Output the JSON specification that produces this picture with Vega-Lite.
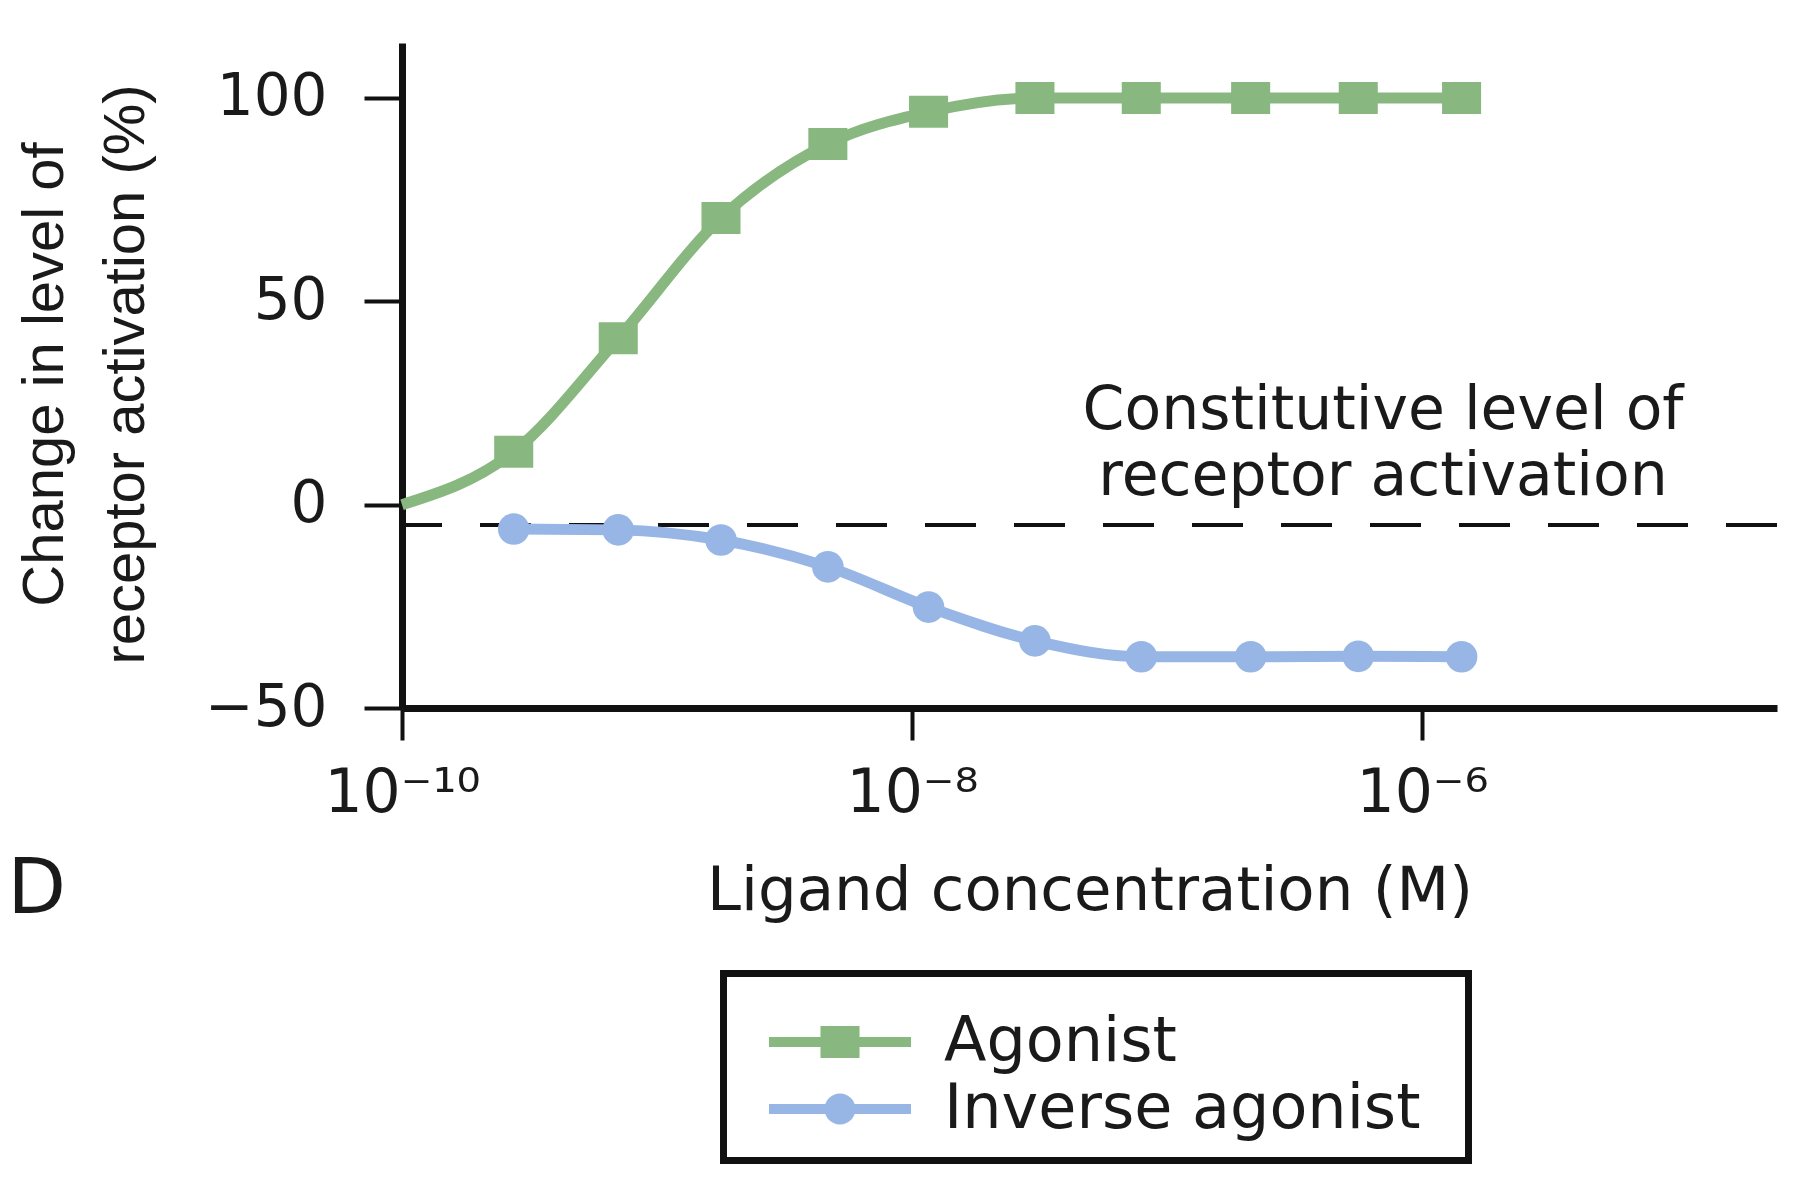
{
  "$schema": "https://vega.github.io/schema/vega-lite/v6.json",
  "description": "Dose-response of receptor activation for an agonist and an inverse agonist, log concentration axis.",
  "width": 1375,
  "height": 665,
  "autosize": "none",
  "padding": {"left": 402, "top": 43, "right": 35, "bottom": 488},
  "background": "white",
  "config": {
    "view": {"stroke": null},
    "font": "DejaVu Sans",
    "legend": {
      "orient": "none",
      "legendX": 321.5,
      "legendY": 930.5,
      "direction": "vertical",
      "titleFontSize": 1,
      "titlePadding": 16.5,
      "padding": 20,
      "strokeColor": "#111111",
      "fillColor": "white",
      "symbolSize": 3844,
      "symbolStrokeWidth": 0,
      "symbolOffset": 65.5,
      "labelOffset": 73,
      "labelFont": "DejaVu Sans",
      "labelFontSize": 62,
      "labelColor": "#1a1a1a",
      "labelLimit": 0,
      "rowPadding": 5
    }
  },
  "datasets": {
    "curves": [
      {"ligand": "Agonist", "conc": 1e-10, "activation": 0, "measured": false},
      {"ligand": "Agonist", "conc": 2.742e-10, "activation": 13.0, "measured": true},
      {"ligand": "Agonist", "conc": 7.047e-10, "activation": 40.9, "measured": true},
      {"ligand": "Agonist", "conc": 1.782e-9, "activation": 70.5, "measured": true},
      {"ligand": "Agonist", "conc": 4.677e-9, "activation": 88.7, "measured": true},
      {"ligand": "Agonist", "conc": 1.161e-8, "activation": 96.6, "measured": true},
      {"ligand": "Agonist", "conc": 3.034e-8, "activation": 100, "measured": true},
      {"ligand": "Agonist", "conc": 7.925e-8, "activation": 100, "measured": true},
      {"ligand": "Agonist", "conc": 2.128e-7, "activation": 100, "measured": true},
      {"ligand": "Agonist", "conc": 5.623e-7, "activation": 100, "measured": true},
      {"ligand": "Agonist", "conc": 1.429e-6, "activation": 100, "measured": true},
      {"ligand": "Inverse agonist", "conc": 2.742e-10, "activation": -6.0, "measured": true},
      {"ligand": "Inverse agonist", "conc": 7.047e-10, "activation": -6.2, "measured": true},
      {"ligand": "Inverse agonist", "conc": 1.782e-9, "activation": -8.7, "measured": true},
      {"ligand": "Inverse agonist", "conc": 4.677e-9, "activation": -15.3, "measured": true},
      {"ligand": "Inverse agonist", "conc": 1.161e-8, "activation": -25.2, "measured": true},
      {"ligand": "Inverse agonist", "conc": 3.034e-8, "activation": -33.5, "measured": true},
      {"ligand": "Inverse agonist", "conc": 7.925e-8, "activation": -37.4, "measured": true},
      {"ligand": "Inverse agonist", "conc": 2.128e-7, "activation": -37.4, "measured": true},
      {"ligand": "Inverse agonist", "conc": 5.623e-7, "activation": -37.3, "measured": true},
      {"ligand": "Inverse agonist", "conc": 1.429e-6, "activation": -37.4, "measured": true}
    ]
  },
  "layer": [
    {
      "data": {"values": [{"level": -5}]},
      "mark": {"type": "rule", "color": "#111111", "strokeWidth": 4, "strokeDash": [51, 38]},
      "encoding": {
        "y": {"field": "level", "type": "quantitative"}
      }
    },
    {
      "data": {"name": "curves"},
      "mark": {"type": "line", "interpolate": "monotone", "strokeWidth": 11},
      "encoding": {
        "x": {
          "field": "conc",
          "type": "quantitative",
          "scale": {"type": "log", "domain": [1e-10, 2.466e-5], "nice": false},
          "axis": {
            "title": "Ligand concentration (M)",
            "values": [1e-10, 1e-8, 1e-6],
            "labelExpr": "'10' + (datum.value < 1e-9 ? '⁻¹⁰' : datum.value < 1e-7 ? '⁻⁸' : '⁻⁶')",
            "grid": false,
            "domainColor": "#111111",
            "domainWidth": 7,
            "tickColor": "#111111",
            "tickWidth": 4,
            "tickSize": 32,
            "labelFont": "DejaVu Sans",
            "labelFontSize": 60,
            "labelColor": "#1a1a1a",
            "labelPadding": 24,
            "labelFlush": false,
            "labelOverlap": false,
            "titleFont": "DejaVu Sans",
            "titleFontSize": 61,
            "titleFontWeight": "normal",
            "titleColor": "#1a1a1a",
            "titleBaseline": "alphabetic",
            "titleY": 201
          }
        },
        "y": {
          "field": "activation",
          "type": "quantitative",
          "scale": {"domain": [-50, 113.52], "nice": false, "zero": false},
          "axis": {
            "title": ["Change in level of", "receptor activation (%)"],
            "values": [-50, 0, 50, 100],
            "grid": false,
            "domainColor": "#111111",
            "domainWidth": 7,
            "tickColor": "#111111",
            "tickWidth": 4,
            "tickSize": 38,
            "labelFont": "DejaVu Sans",
            "labelFontSize": 58,
            "labelColor": "#1a1a1a",
            "labelPadding": 37,
            "titleFont": "Liberation Sans",
            "titleFontSize": 58,
            "titleFontWeight": "normal",
            "titleColor": "#1a1a1a",
            "titleLineHeight": 81,
            "titleAngle": -90,
            "titleAlign": "center",
            "titleBaseline": "bottom",
            "titleX": -328,
            "titleY": 331
          }
        },
        "color": {
          "field": "ligand",
          "type": "nominal",
          "scale": {"domain": ["Agonist", "Inverse agonist"], "range": ["#88b880", "#98b6e5"]},
          "legend": {
            "title": " ",
            "symbolType": "M-2.29,-0.16L2.29,-0.16L2.29,0.16L-2.29,0.16ZM-0.63,-0.52L0.63,-0.52L0.63,0.52L-0.63,0.52ZM19.6,0",
            "encoding": {
              "legend": {"strokeWidth": {"value": 7}},
              "symbols": {
                "shape": {
                  "condition": {"test": "datum.value === 'Agonist'", "value": "M-2.29,-0.16L2.29,-0.16L2.29,0.16L-2.29,0.16ZM-0.63,-0.52L0.63,-0.52L0.63,0.52L-0.63,0.52ZM19.6,0"},
                  "value": "M-2.29,-0.16L2.29,-0.16L2.29,0.16L-2.29,0.16ZM0.5,0A0.5,0.5,0,1,1,-0.5,0A0.5,0.5,0,1,1,0.5,0ZM19.6,0"
                },
                "fill": {
                  "condition": {"test": "datum.value === 'Agonist'", "value": "#88b880"},
                  "value": "#98b6e5"
                },
                "stroke": {"value": "transparent"},
                "strokeWidth": {"value": 0},
                "opacity": {"value": 1}
              }
            }
          }
        }
      }
    },
    {
      "data": {"name": "curves"},
      "transform": [{"filter": "datum.measured && datum.ligand === 'Agonist'"}],
      "mark": {"type": "point", "filled": true, "opacity": 1, "size": 1024, "shape": "M-1.22,-1L1.22,-1L1.22,1L-1.22,1Z"},
      "encoding": {
        "x": {"field": "conc", "type": "quantitative"},
        "y": {"field": "activation", "type": "quantitative"},
        "color": {"field": "ligand", "type": "nominal"}
      }
    },
    {
      "data": {"name": "curves"},
      "transform": [{"filter": "datum.measured && datum.ligand === 'Inverse agonist'"}],
      "mark": {"type": "point", "filled": true, "opacity": 1, "size": 1000, "shape": "circle"},
      "encoding": {
        "x": {"field": "conc", "type": "quantitative"},
        "y": {"field": "activation", "type": "quantitative"},
        "color": {"field": "ligand", "type": "nominal"}
      }
    },
    {
      "data": {"values": [{"note": "Constitutive level of\nreceptor activation"}]},
      "mark": {
        "type": "text",
        "font": "DejaVu Sans",
        "fontSize": 60,
        "align": "center",
        "baseline": "alphabetic",
        "lineHeight": 66,
        "lineBreak": "\n",
        "color": "#1a1a1a"
      },
      "encoding": {
        "x": {"datum": 7.03e-7},
        "y": {"datum": 18.6},
        "text": {"field": "note"}
      }
    },
    {
      "data": {"values": [{"panel": "D"}]},
      "mark": {
        "type": "text",
        "font": "DejaVu Sans",
        "fontSize": 76,
        "align": "left",
        "baseline": "alphabetic",
        "color": "#1a1a1a"
      },
      "encoding": {
        "x": {"datum": 2.84e-12},
        "y": {"datum": -100.4},
        "text": {"field": "panel"}
      }
    }
  ]
}
